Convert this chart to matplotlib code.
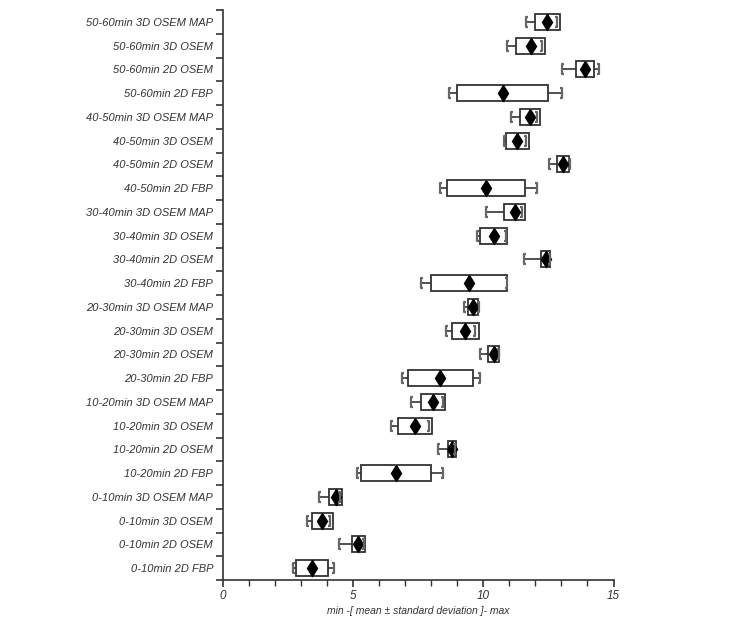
import numpy as np
import matplotlib
matplotlib.use("Agg")
import matplotlib.pyplot as plt
from matplotlib.path import Path

# categories, listed top to bottom as in the figure
labels = [
    "50-60min 3D OSEM MAP", "50-60min 3D OSEM", "50-60min 2D OSEM", "50-60min 2D FBP",
    "40-50min 3D OSEM MAP", "40-50min 3D OSEM", "40-50min 2D OSEM", "40-50min 2D FBP",
    "30-40min 3D OSEM MAP", "30-40min 3D OSEM", "30-40min 2D OSEM", "30-40min 2D FBP",
    "20-30min 3D OSEM MAP", "20-30min 3D OSEM", "20-30min 2D OSEM", "20-30min 2D FBP",
    "10-20min 3D OSEM MAP", "10-20min 3D OSEM", "10-20min 2D OSEM", "10-20min 2D FBP",
    "0-10min 3D OSEM MAP", "0-10min 3D OSEM", "0-10min 2D OSEM", "0-10min 2D FBP",
]
means = [12.45, 11.82, 13.91, 10.74, 11.80, 11.31, 13.07, 10.11,
         11.20, 10.40, 12.39, 9.46, 9.60, 9.31, 10.40, 8.35,
         8.07, 7.37, 8.79, 6.65, 4.33, 3.82, 5.21, 3.42]
sds = [0.48, 0.56, 0.35, 1.76, 0.38, 0.43, 0.24, 1.51,
       0.42, 0.52, 0.18, 1.47, 0.20, 0.52, 0.22, 1.25,
       0.47, 0.65, 0.16, 1.34, 0.25, 0.40, 0.26, 0.62]
mins = [11.66, 10.93, 13.02, 8.70, 11.06, 10.78, 12.54, 8.35,
        10.11, 9.75, 11.57, 7.60, 9.27, 8.58, 9.88, 6.87,
        7.23, 6.45, 8.28, 5.14, 3.71, 3.25, 4.48, 2.71]
maxs = [12.82, 12.25, 14.45, 13.02, 12.08, 11.65, 13.34, 12.06,
        11.48, 10.88, 12.55, 10.90, 9.85, 9.69, 10.60, 9.88,
        8.47, 7.93, 8.92, 8.47, 4.50, 4.12, 5.42, 4.27]

line_colors = ["#3b4ea0", "#3c8a3c", "#d0431f", "#222222", "#4aa0c0", "#3c8a3c", "#d0431f", "#d8c020",
               "#a03080", "#4aa0c0", "#2b3580", "#3c8a3c", "#d0431f", "#222222", "#4aa0c0", "#3c8a3c",
               "#d0431f", "#d8c020", "#a03080", "#58b4dc", "#2b3580", "#3c8a3c", "#d0431f", "#222222"]

plt.rcParams["font.family"] = ["Liberation Sans", "DejaVu Sans"]

n = len(labels)
y = np.arange(n)
means = np.array(means)
sds = np.array(sds)

fig = plt.figure(figsize=(7.5, 6.25), dpi=100)
ax = fig.add_axes([0.297, 0.072, 0.521, 0.912])

edge = "#333333"
cap_col = "#666666"

# whiskers from min to max (the box covers the middle part)
ax.hlines(y, mins, maxs, color=edge, lw=1.2, zorder=1)

# mean +/- sd boxes
ax.barh(y, 2 * sds, left=means - sds, height=0.68, color="white",
        edgecolor=edge, linewidth=1.3, zorder=2)

# coloured mean line inside each box
for yi, m, c in zip(y, means, line_colors):
    ax.plot([m, m], [yi - 0.34, yi + 0.34], color=c, lw=1.0, zorder=3)

# mean diamonds
ax.plot(means, y, linestyle="none", marker="d", markersize=8.5,
        color="black", zorder=4)

# bracket caps at min and max
left_cap = Path([(0.5, 1), (0, 1), (0, -1), (0.5, -1)],
                [Path.MOVETO, Path.LINETO, Path.LINETO, Path.LINETO])
right_cap = Path([(-0.5, 1), (0, 1), (0, -1), (-0.5, -1)],
                 [Path.MOVETO, Path.LINETO, Path.LINETO, Path.LINETO])
ax.plot(mins, y, linestyle="none", marker=left_cap, markersize=7,
        fillstyle="none", markeredgecolor=cap_col, markeredgewidth=1.6, zorder=5)
ax.plot(maxs, y, linestyle="none", marker=right_cap, markersize=7,
        fillstyle="none", markeredgecolor=cap_col, markeredgewidth=1.6, zorder=5)

# axes styling
ax.set_xlim(0, 15)
ax.set_ylim(n - 0.5, -0.5)
ax.spines["top"].set_visible(False)
ax.spines["right"].set_visible(False)
for s in ("left", "bottom"):
    ax.spines[s].set_color(edge)
    ax.spines[s].set_linewidth(1.2)

ax.set_yticks(y)
ax.set_yticklabels(labels, fontsize=8, style="italic", color="#333333")
ax.set_yticks(np.arange(-0.5, n, 1.0), minor=True)
ax.tick_params(axis="y", which="major", length=0, pad=7)
ax.tick_params(axis="y", which="minor", length=5, width=1.2, color=edge)

ax.set_xticks([0, 5, 10, 15])
ax.set_xticklabels(["0", "5", "10", "15"], fontsize=8.5, style="italic", color="#333333")
ax.set_xticks(np.arange(0, 16, 1), minor=True)
ax.tick_params(axis="x", which="major", length=5, width=1.2, color=edge, pad=2)
ax.tick_params(axis="x", which="minor", length=4, width=1.0, color=edge)

ax.set_xlabel("min -[ mean \u00b1 standard deviation ]- max", fontsize=7.5,
              style="italic", color="#333333", labelpad=3)

fig.savefig("out.png", dpi=100)
